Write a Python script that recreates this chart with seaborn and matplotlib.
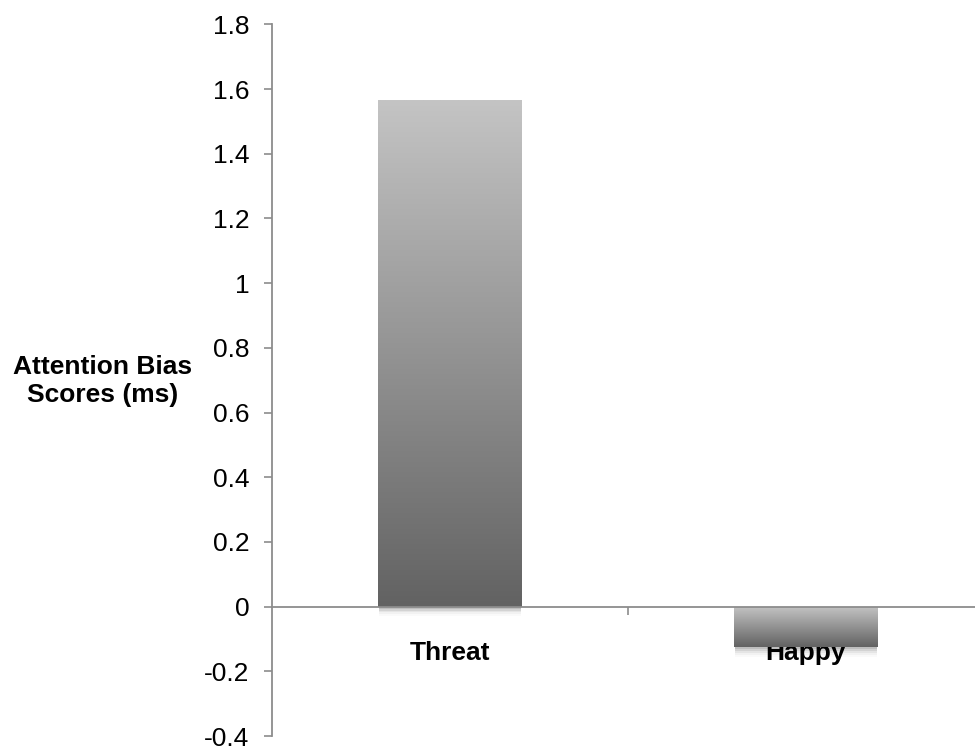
import numpy as np
import pandas as pd
import matplotlib
matplotlib.use("Agg")
import matplotlib.pyplot as plt
import seaborn as sns

categories = ["Threat", "Happy"]
scores = [1.566, -0.126]
yticks = [-0.4, -0.2, 0, 0.2, 0.4, 0.6, 0.8, 1.0, 1.2, 1.4, 1.6, 1.8]
ytick_labels = ["-0.4", "-0.2", "0", "0.2", "0.4", "0.6", "0.8", "1", "1.2", "1.4", "1.6", "1.8"]
ylabel = "Attention Bias\nScores (ms)"

sns.set_style("white")
plt.rcParams["font.family"] = ["Liberation Sans", "DejaVu Sans"]
plt.rcParams["axes.unicode_minus"] = False

df = pd.DataFrame({"category": categories, "score": scores})

fig = plt.figure(figsize=(9.75, 7.48), dpi=100)
ax = fig.add_axes([0.2787, 0.016, 0.7303, 0.9515])

sns.barplot(data=df, x="category", y="score", width=0.404, color="#888888", ax=ax)

# gradient fill (light top, dark bottom) clipped to each bar
grad = np.linspace(0, 1, 256).reshape(-1, 1)
cmap = matplotlib.colors.LinearSegmentedColormap.from_list("g", ["#626262", "#c4c4c4"])
for p in ax.patches:
    x0, y0 = p.get_x(), min(p.get_y(), p.get_y() + p.get_height())
    x1, y1 = x0 + p.get_width(), max(p.get_y(), p.get_y() + p.get_height())
    # soft shadow just below the bar
    for k, a in enumerate([0.10, 0.07, 0.05, 0.03, 0.02]):
        d = 0.006 * (k + 1)
        ax.add_patch(plt.Rectangle((x0 + 0.003, y0 - d), (x1 - x0) - 0.006, d,
                                   color="black", alpha=a, lw=0, zorder=1))
    im = ax.imshow(grad, cmap=cmap, origin="lower", aspect="auto",
                   extent=[x0, x1, y0, y1], zorder=2)
    im.set_clip_path(p)
    p.set_facecolor("none")
    p.set_edgecolor("none")
    p.set_zorder(3)

# spines first: moving a spine resets the ticks
for s in ["top", "right"]:
    ax.spines[s].set_visible(False)
ax.spines["bottom"].set_position(("data", 0))
for s in ["left", "bottom"]:
    ax.spines[s].set_color("#8c8c8c")
    ax.spines[s].set_linewidth(1.3)
    ax.spines[s].set_zorder(4)

ax.set_xlim(-0.5, 1.5)
ax.set_ylim(-0.4, 1.8)
ax.set_yticks(yticks)
ax.set_yticklabels(ytick_labels)
ax.tick_params(axis="y", direction="out", length=6, width=1.2, color="#8c8c8c", pad=10,
               left=True, labelsize=19, labelcolor="black")

ax.set_xticks([0, 1])
ax.set_xticks([0.5, 1.5], minor=True)
ax.tick_params(axis="x", which="major", length=0, pad=24.5, labelsize=19, labelcolor="black")
ax.tick_params(axis="x", which="minor", direction="out", length=5.5, width=1.2,
               color="#8c8c8c", bottom=True)
ax.set_xticklabels(categories, fontsize=19, fontweight="bold")

ax.set_xlabel("")
ax.set_ylabel(ylabel, fontsize=19, fontweight="bold", rotation=0, color="black",
              ha="center", va="center", linespacing=1.2)
ax.yaxis.set_label_coords(-0.238, 0.499)

fig.savefig("out.png", dpi=100)
